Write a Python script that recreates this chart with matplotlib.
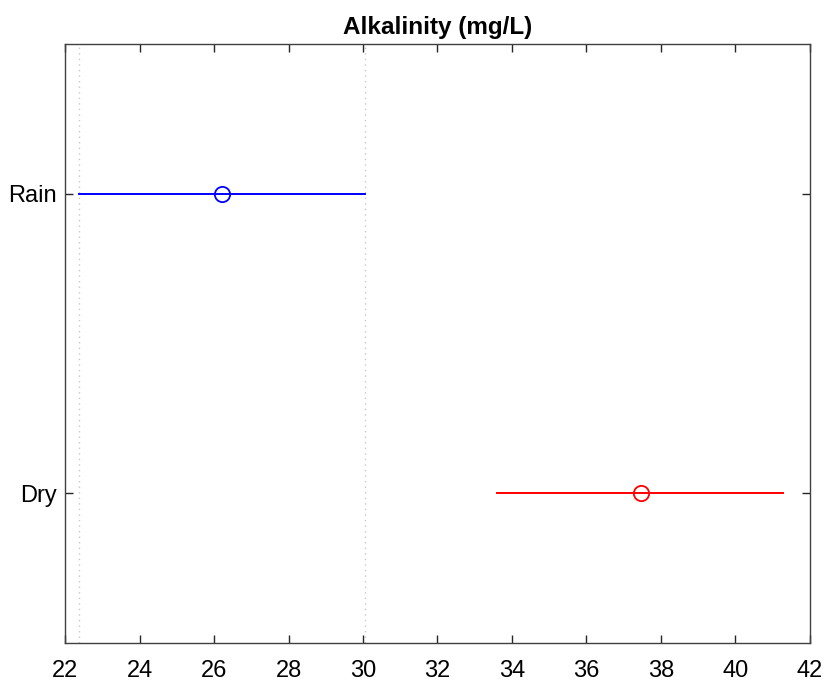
import matplotlib
matplotlib.use("Agg")
import matplotlib.pyplot as plt

# group means and comparison intervals
groups = ["Dry", "Rain"]
means = [37.45, 26.21]
lower = [33.60, 22.37]
upper = [41.28, 30.05]
colors = ["red", "blue"]

plt.rcParams["font.family"] = ["Liberation Sans", "DejaVu Sans"]

fig = plt.figure(figsize=(8.25, 6.83), dpi=100)
ax = fig.add_axes([0.0788, 0.0586, 0.9030, 0.8770])

for i, name in enumerate(groups):
    y = i + 1
    ax.plot([lower[i], upper[i]], [y, y], color=colors[i], lw=1.4)
    ax.plot(means[i], y, "o", mfc="none", mec=colors[i], ms=11, mew=1.3)

# dotted reference lines at the selected group's interval
sel = groups.index("Rain")
for xv in (lower[sel], upper[sel]):
    ax.axvline(xv, color="#c8c8c8", ls=(0, (1, 3)), lw=1.0, zorder=0)

ax.set_xlim(22, 42)
ax.set_ylim(0.5, len(groups) + 0.5)
ax.set_xticks(range(22, 43, 2))
ax.set_yticks([1, 2])
ax.set_yticklabels(groups)
ax.tick_params(direction="in", length=6, width=1, color="#262626",
               labelcolor="black", labelsize=17, top=True, right=True)
ax.tick_params(axis="x", pad=12)
ax.tick_params(axis="y", pad=6)
for s in ax.spines.values():
    s.set_color("#404040")
    s.set_linewidth(1.0)

ax.set_title("Alkalinity (mg/L)", fontsize=17.5, fontweight="bold", pad=7)

fig.savefig("out.png", dpi=100)
